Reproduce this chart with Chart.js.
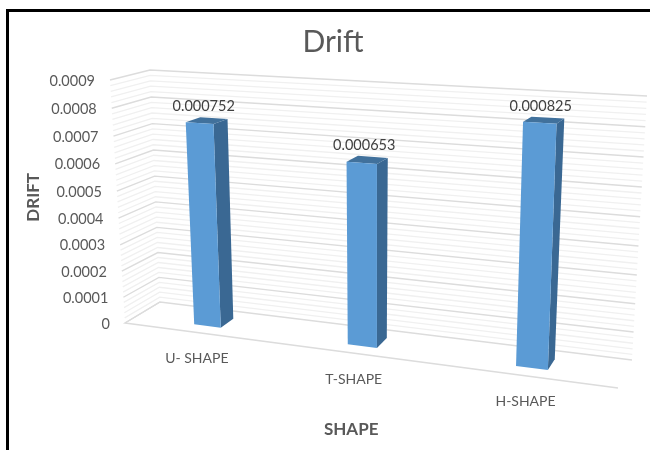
<!DOCTYPE html>
<html>
<head>
<meta charset="utf-8">
<title>Drift</title>
<script src="https://cdn.jsdelivr.net/npm/chart.js@4"></script>
<style>
  html, body { margin: 0; padding: 0; background: #fff; overflow: hidden; }
  #frame { position: absolute; left: 6px; top: 9px; width: 644px; height: 441px; border-left: 3px solid #000; border-top: 3px solid #000; }
  #wrap { position: absolute; left: 16px; top: 0; width: 634px; height: 450px; }
</style>
</head>
<body>
<div id="frame"></div>
<div id="wrap"><canvas id="driftChart" width="634" height="450"></canvas></div>
<script>
const categories = ['U- SHAPE', 'T-SHAPE', 'H-SHAPE'];
const driftValues = [0.000752, 0.000653, 0.000825];
const valueLabels = ['0.000752', '0.000653', '0.000825'];
const tickLabels = ['0', '0.0001', '0.0002', '0.0003', '0.0004', '0.0005', '0.0006', '0.0007', '0.0008', '0.0009'];

// corners of the 3D box, in canvas pixels (page x minus 16)
const floorFront = [[109, 323], [602, 388]];
const floorBack = [[144, 302], [616, 360]];
const topFront = [[94, 80], [615, 108]];
const topBack = [[134, 70], [631, 96]];

const barDepth = [0.3, 0.7];
const minorPerMajor = 5;

const lerp = (a, b, t) => [a[0] + (b[0] - a[0]) * t, a[1] + (b[1] - a[1]) * t];

// u across the categories, v up the value axis, d from front to back
function project(u, v, d) {
  const w = u * (0.864 + 0.136 * u); // near side of the box is a bit compressed
  const h = v * (0.948 + 0.052 * v); // same for the bottom of the value axis
  const floor = lerp(lerp(floorFront[0], floorFront[1], w), lerp(floorBack[0], floorBack[1], w), d);
  const top = lerp(lerp(topFront[0], topFront[1], w), lerp(topBack[0], topBack[1], w), d);
  return lerp(floor, top, h);
}

function poly(ctx, pts, fill) {
  ctx.beginPath();
  pts.forEach((p, i) => (i ? ctx.lineTo(p[0], p[1]) : ctx.moveTo(p[0], p[1])));
  ctx.closePath();
  ctx.fillStyle = fill;
  ctx.fill();
}

function segment(ctx, pts, color, width) {
  ctx.beginPath();
  pts.forEach((p, i) => (i ? ctx.lineTo(p[0], p[1]) : ctx.moveTo(p[0], p[1])));
  ctx.strokeStyle = color;
  ctx.lineWidth = width;
  ctx.stroke();
}

const box3d = {
  id: 'box3d',
  beforeDatasetsDraw(chart) {
    const { ctx, scales: { y } } = chart;
    const frac = val => (y.bottom - y.getPixelForValue(val)) / (y.bottom - y.top);
    const step = y.ticks[1].value - y.ticks[0].value;

    ctx.save();
    // minor lines first so the major ones sit on top
    y.ticks.slice(0, -1).forEach(t => {
      for (let k = 1; k < minorPerMajor; k++) {
        const v = frac(t.value + step * k / minorPerMajor);
        segment(ctx, [project(0, v, 0), project(0, v, 1), project(1, v, 1)], '#f0f0f0', 1.3);
      }
    });
    y.ticks.forEach(t => {
      const v = frac(t.value);
      segment(ctx, [project(0, v, 0), project(0, v, 1), project(1, v, 1)], '#dcdcdc', 1.4);
    });
    segment(ctx, [project(0, 0, 1), project(0, 0, 0), project(1, 0, 0)], '#dcdcdc', 1.4);

    // value axis labels follow the front edge of the left wall
    ctx.font = '14.5px Lato';
    ctx.fillStyle = '#595959';
    ctx.textAlign = 'right';
    ctx.textBaseline = 'middle';
    y.ticks.forEach(t => {
      const p = project(0, frac(t.value), 0);
      ctx.fillText(t.label, p[0] - 15, p[1] + 1);
    });
    ctx.restore();
  },
  beforeDatasetDraw() {
    return false; // bars are drawn as boxes below
  },
  afterDatasetsDraw(chart) {
    const { ctx, chartArea: area, scales: { x, y } } = chart;
    const meta = chart.getDatasetMeta(0);
    const fu = px => (px - area.left) / (area.right - area.left);
    const fv = px => (y.bottom - px) / (y.bottom - y.top);

    ctx.save();
    meta.data.forEach((bar, i) => {
      const u0 = fu(bar.x - bar.width / 2);
      const u1 = fu(bar.x + bar.width / 2);
      const v = fv(bar.y);
      const [d0, d1] = barDepth;
      poly(ctx, [project(u1, 0, d0), project(u1, 0, d1), project(u1, v, d1), project(u1, v, d0)], '#3a6893');
      poly(ctx, [project(u0, v, d0), project(u1, v, d0), project(u1, v, d1), project(u0, v, d1)], '#41719c');
      poly(ctx, [project(u0, 0, d0), project(u1, 0, d0), project(u1, v, d0), project(u0, v, d0)], chart.data.datasets[0].backgroundColor);

      ctx.textAlign = 'center';
      ctx.textBaseline = 'middle';
      ctx.font = '14.5px Lato';
      ctx.fillStyle = '#404040';
      const top = project(fu(bar.x), v, 0.5);
      ctx.fillText(valueLabels[i], top[0] - 3, top[1] - 14);

      ctx.fillStyle = '#595959';
      ctx.font = '14px Lato';
      const foot = project(fu(bar.x), 0, 0);
      ctx.fillText(x.getLabelForValue(i), foot[0] - 1, foot[1] + 26);
    });
    ctx.restore();
  }
};

new Chart(document.getElementById('driftChart'), {
  type: 'bar',
  data: {
    labels: categories,
    datasets: [{
      label: 'Drift',
      data: driftValues,
      backgroundColor: '#5b9bd5',
      categoryPercentage: 1,
      barPercentage: 0.18
    }]
  },
  options: {
    responsive: false,
    animation: false,
    layout: { padding: { left: 0, right: 0, top: 0, bottom: 10 } },
    plugins: {
      legend: { display: false },
      tooltip: { enabled: false },
      title: {
        display: true,
        text: 'Drift',
        color: '#595959',
        font: { family: 'Lato', size: 30, weight: 'normal' },
        padding: { top: 24, bottom: 20 }
      }
    },
    scales: {
      x: {
        grid: { display: false },
        border: { display: false },
        ticks: { display: false },
        title: {
          display: true,
          text: 'SHAPE',
          color: '#595959',
          font: { family: 'Lato', size: 17, weight: 'bold' },
          padding: { top: 97, bottom: 0 }
        }
      },
      y: {
        min: 0,
        max: 0.0009,
        grid: { display: false },
        border: { display: false },
        ticks: {
          display: false,
          stepSize: 0.0001,
          callback: (value, i) => tickLabels[i]
        },
        title: {
          display: true,
          text: 'DRIFT',
          color: '#595959',
          font: { family: 'Lato', size: 17, weight: 'bold' },
          padding: { top: 7, bottom: 1 }
        }
      }
    }
  },
  plugins: [box3d]
});
</script>
</body>
</html>
